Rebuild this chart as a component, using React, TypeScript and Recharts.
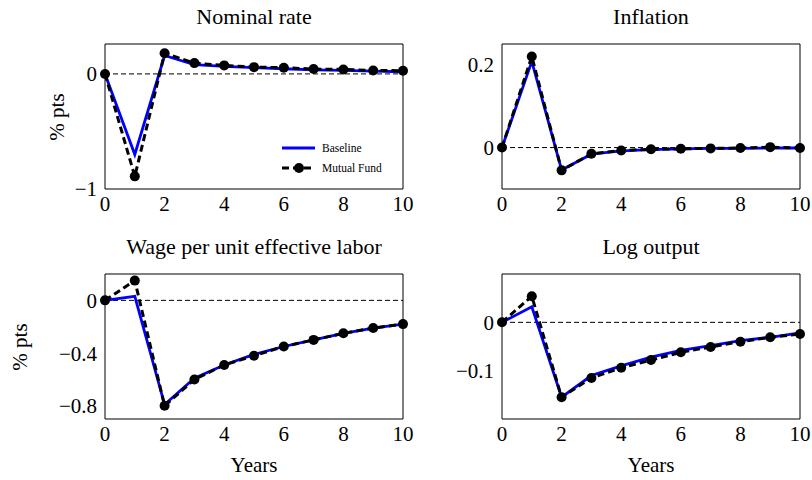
import { Legend, Line, LineChart, ReferenceLine, XAxis, YAxis } from "recharts";

const FONT = '"Liberation Serif", "Times New Roman", serif';
const TICK_GRAY = "#9a9a9a";

const years = [0, 1, 2, 3, 4, 5, 6, 7, 8, 9, 10];
const xTicks = [0, 2, 4, 6, 8, 10];

const nominalBaseline = [0, -0.7, 0.16, 0.08, 0.065, 0.054, 0.045, 0.036, 0.03, 0.024, 0.019];
const nominalMutual = [0, -0.89, 0.18, 0.094, 0.074, 0.059, 0.054, 0.042, 0.039, 0.03, 0.028];
const inflationBaseline = [0, 0.208, -0.054, -0.016, -0.008, -0.005, -0.003, -0.002, -0.002, -0.001, -0.001];
const inflationMutual = [0, 0.22, -0.055, -0.015, -0.007, -0.004, -0.003, -0.002, -0.001, 0.001, -0.001];
const wageBaseline = [0, 0.03, -0.79, -0.59, -0.49, -0.41, -0.35, -0.3, -0.25, -0.21, -0.18];
const wageMutual = [0, 0.15, -0.8, -0.6, -0.49, -0.42, -0.35, -0.3, -0.25, -0.21, -0.18];
const outputBaseline = [0, 0.032, -0.155, -0.11, -0.09, -0.072, -0.058, -0.048, -0.038, -0.031, -0.022];
const outputMutual = [0, 0.054, -0.155, -0.115, -0.094, -0.078, -0.062, -0.051, -0.04, -0.031, -0.024];

const PLOT_W = 298;
const PLOT_H = 145;
const Y_W = 105;
const M_TOP = 6;
const M_RIGHT = 12;
const X_H = 34;

const fmt = (v: number) => (v < 0 ? `\u2212${Math.abs(v)}` : `${v}`);

function LegendBox() {
  return (
    <div style={{ fontFamily: FONT, fontSize: 11.5, color: "#000", lineHeight: "20px" }}>
      <div style={{ display: "flex", alignItems: "center" }}>
        <svg width={34} height={20}>
          <line x1={0} y1={10} x2={33} y2={10} stroke="#0000ff" strokeWidth={2.8} />
        </svg>
        <span style={{ marginLeft: 6 }}>Baseline</span>
      </div>
      <div style={{ display: "flex", alignItems: "center" }}>
        <svg width={34} height={20}>
          <line x1={0} y1={10} x2={33} y2={10} stroke="#000" strokeWidth={3} strokeDasharray="7 4" />
          <circle cx={17} cy={10} r={5} fill="#000" />
        </svg>
        <span style={{ marginLeft: 6 }}>Mutual Fund</span>
      </div>
    </div>
  );
}

type PanelProps = {
  left: number;
  top: number;
  title: string;
  baseline: number[];
  mutual: number[];
  domain: [number, number];
  ticks: number[];
  yLabelX?: number;
  xLabel?: boolean;
  legend?: boolean;
};

function Panel({ left, top, title, baseline, mutual, domain, ticks, yLabelX, xLabel, legend }: PanelProps) {
  const data = years.map((year, i) => ({ year, baseline: baseline[i], mutual: mutual[i] }));
  const cx = left + PLOT_W / 2;
  return (
    <>
      <div
        style={{
          position: "absolute",
          left: cx - 200,
          width: 400,
          top: top - 38,
          textAlign: "center",
          fontFamily: FONT,
          fontSize: 22,
          lineHeight: "22px",
          whiteSpace: "nowrap",
        }}
      >
        {title}
      </div>
      {yLabelX !== undefined && (
        <div
          style={{
            position: "absolute",
            left: yLabelX - 50,
            width: 100,
            top: top + PLOT_H / 2 - 13,
            height: 26,
            lineHeight: "26px",
            textAlign: "center",
            fontFamily: FONT,
            fontSize: 21,
            transform: "rotate(-90deg)",
          }}
        >
          % pts
        </div>
      )}
      {xLabel && (
        <div
          style={{
            position: "absolute",
            left: cx - 100,
            width: 200,
            top: top + PLOT_H + 35,
            textAlign: "center",
            fontFamily: FONT,
            fontSize: 21,
            lineHeight: "22px",
          }}
        >
          Years
        </div>
      )}
      <div style={{ position: "absolute", left: left - Y_W, top: top - M_TOP }}>
        <LineChart
          width={Y_W + PLOT_W + M_RIGHT}
          height={M_TOP + PLOT_H + X_H}
          data={data}
          margin={{ top: M_TOP, right: M_RIGHT, bottom: 0, left: 0 }}
        >
          <XAxis
            xAxisId="b"
            dataKey="year"
            type="number"
            domain={[0, 10]}
            ticks={xTicks}
            interval={0}
            height={X_H}
            tickLine={false}
            tickSize={0}
            tickMargin={7}
            axisLine={{ stroke: "#000" }}
            tick={{ fill: "#000", fontSize: 21, fontFamily: FONT }}
          />
          <XAxis
            xAxisId="bm"
            dataKey="year"
            type="number"
            domain={[0, 10]}
            ticks={xTicks}
            interval={0}
            mirror
            tick={false}
            tickSize={5}
            axisLine={false}
            tickLine={{ stroke: TICK_GRAY }}
          />
          <XAxis
            xAxisId="t"
            orientation="top"
            dataKey="year"
            type="number"
            domain={[0, 10]}
            ticks={xTicks}
            interval={0}
            mirror
            tick={false}
            tickSize={5}
            axisLine={{ stroke: "#000" }}
            tickLine={{ stroke: TICK_GRAY }}
          />
          <YAxis
            yAxisId="l"
            type="number"
            domain={domain}
            ticks={ticks}
            interval={0}
            width={Y_W}
            tickLine={false}
            tickSize={0}
            tickMargin={8}
            axisLine={{ stroke: "#000" }}
            tick={{ fill: "#000", fontSize: 21, fontFamily: FONT }}
            tickFormatter={fmt}
          />
          <YAxis
            yAxisId="lm"
            type="number"
            domain={domain}
            ticks={ticks}
            interval={0}
            mirror
            tick={false}
            tickSize={5}
            axisLine={false}
            tickLine={{ stroke: TICK_GRAY }}
          />
          <YAxis
            yAxisId="r"
            orientation="right"
            type="number"
            domain={domain}
            ticks={ticks}
            interval={0}
            mirror
            tick={false}
            tickSize={5}
            axisLine={{ stroke: "#000" }}
            tickLine={{ stroke: TICK_GRAY }}
          />
          <ReferenceLine xAxisId="b" yAxisId="l" y={0} stroke="#000" strokeWidth={1} strokeDasharray="5 3" />
          <Line
            xAxisId="b"
            yAxisId="l"
            type="linear"
            dataKey="baseline"
            stroke="#0000ff"
            strokeWidth={2.8}
            dot={false}
            isAnimationActive={false}
          />
          <Line
            xAxisId="b"
            yAxisId="l"
            type="linear"
            dataKey="mutual"
            stroke="#000"
            strokeWidth={3}
            strokeDasharray="7 4"
            dot={{ r: 5, fill: "#000", strokeWidth: 0 }}
            isAnimationActive={false}
          />
          {legend && (
            <Legend
              layout="horizontal"
              verticalAlign="middle"
              align="center"
              content={() => <LegendBox />}
              wrapperStyle={{ left: 282, top: 100, width: 120 }}
            />
          )}
        </LineChart>
      </div>
    </>
  );
}

export default function App() {
  return (
    <div style={{ position: "absolute", left: 0, top: 0, width: 812, height: 480, background: "#fff" }}>
      <Panel
        left={105}
        top={44}
        title="Nominal rate"
        baseline={nominalBaseline}
        mutual={nominalMutual}
        domain={[-1, 0.26]}
        ticks={[-1, 0]}
        yLabelX={57}
        legend
      />
      <Panel
        left={502}
        top={44}
        title="Inflation"
        baseline={inflationBaseline}
        mutual={inflationMutual}
        domain={[-0.1, 0.25]}
        ticks={[0, 0.2]}
      />
      <Panel
        left={105}
        top={274}
        title="Wage per unit effective labor"
        baseline={wageBaseline}
        mutual={wageMutual}
        domain={[-0.9, 0.2]}
        ticks={[-0.8, -0.4, 0]}
        yLabelX={20}
        xLabel
      />
      <Panel
        left={502}
        top={274}
        title="Log output"
        baseline={outputBaseline}
        mutual={outputMutual}
        domain={[-0.2, 0.1]}
        ticks={[-0.1, 0]}
        xLabel
      />
    </div>
  );
}
